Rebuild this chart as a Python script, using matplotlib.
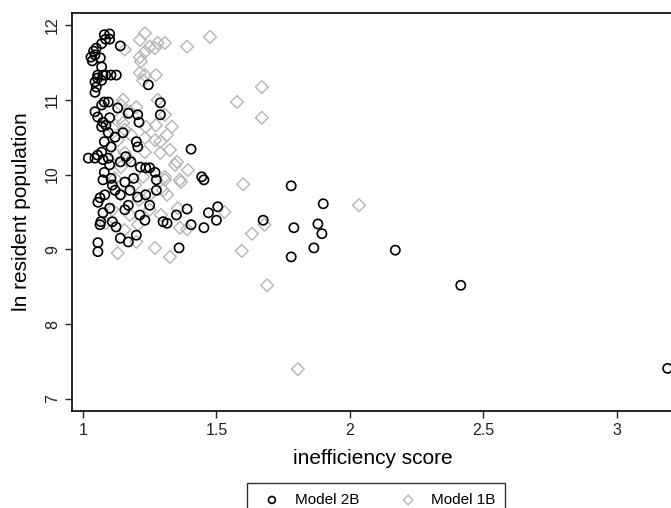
import matplotlib
matplotlib.use("Agg")
import matplotlib.pyplot as plt

plt.rcParams['font.family'] = ['Liberation Sans', 'DejaVu Sans']

# Model 2B (black circles): inefficiency score, ln resident population
m2b_x = [1.08, 1.10, 1.085, 1.10, 1.07, 1.14, 1.05, 1.04, 1.045, 1.03, 1.035, 1.065,
         1.07, 1.055, 1.075, 1.055, 1.045, 1.07, 1.085, 1.105, 1.125, 1.05, 1.045, 1.245,
         1.29, 1.095, 1.07, 1.08, 1.045, 1.055, 1.075, 1.10, 1.17, 1.205, 1.29, 1.095,
         1.12, 1.15, 1.08, 1.105, 1.20, 1.205, 1.045, 1.055, 1.07, 1.075, 1.095, 1.14,
         1.16, 1.18, 1.215, 1.08, 1.235, 1.25, 1.27, 1.275, 1.075, 1.105, 1.157, 1.19,
         1.405, 1.445, 1.453, 1.064, 1.056, 1.075, 1.10, 1.17, 1.205, 1.235, 1.275, 1.25,
         1.067, 1.064, 1.11, 1.124, 1.14, 1.17, 1.20, 1.30, 1.315, 1.056, 1.056, 1.39,
         1.35, 1.47, 1.505, 1.50, 1.405, 1.453, 1.36, 1.675, 1.78, 1.90, 1.88, 1.895,
         1.865, 1.78, 1.79, 2.17, 2.415, 3.19, 1.12, 1.14, 1.11, 1.176, 1.157, 1.213,
         1.232, 1.082, 1.10, 1.07, 1.086, 1.13, 1.02, 1.21]
m2b_y = [11.87, 11.88, 11.81, 11.81, 11.75, 11.72, 11.69, 11.65, 11.60, 11.57, 11.52, 11.56,
         11.44, 11.33, 11.33, 11.29, 11.24, 11.26, 11.33, 11.33, 11.33, 11.17, 11.10, 11.20,
         10.96, 10.97, 10.93, 10.97, 10.84, 10.77, 10.70, 10.76, 10.82, 10.80, 10.80, 10.56,
         10.50, 10.56, 10.44, 10.37, 10.44, 10.37, 10.22, 10.26, 10.30, 10.20, 10.22, 10.17,
         10.24, 10.17, 10.10, 10.03, 10.09, 10.09, 10.03, 9.93, 9.93, 9.95, 9.90, 9.95,
         10.34, 9.97, 9.93, 9.69, 9.63, 9.49, 9.55, 9.59, 9.70, 9.73, 9.79, 9.59,
         9.37, 9.33, 9.37, 9.30, 9.15, 9.10, 9.19, 9.37, 9.35, 9.09, 8.97, 9.54,
         9.46, 9.49, 9.57, 9.39, 9.33, 9.29, 9.02, 9.39, 9.85, 9.61, 9.34, 9.21,
         9.02, 8.90, 9.29, 8.99, 8.52, 7.41, 9.79, 9.73, 9.86, 9.79, 9.53, 9.46,
         9.39, 9.73, 10.13, 10.64, 10.66, 10.89, 10.22, 10.70]

# Model 1B (grey diamonds)
m1b_x = [1.232, 1.213, 1.28, 1.25, 1.27, 1.157, 1.232, 1.213, 1.217, 1.213, 1.232, 1.273,
         1.225, 1.28, 1.15, 1.476, 1.39, 1.307, 1.67, 1.577, 1.67, 1.142, 1.20, 1.176,
         1.236, 1.273, 1.15, 1.232, 1.29, 1.124, 1.157, 1.17, 1.232, 1.29, 1.142, 1.225,
         1.307, 1.12, 1.307, 1.333, 1.326, 1.352, 1.345, 1.393, 1.363, 1.307, 1.60, 1.367,
         1.315, 1.356, 1.53, 1.363, 1.39, 1.633, 1.595, 1.326, 1.142, 1.30, 1.20, 1.13,
         1.27, 1.086, 1.292, 2.034, 1.68, 1.69, 1.805, 1.157, 1.18, 1.13, 1.25, 1.21,
         1.176, 1.11, 1.195, 1.14, 1.11, 1.25, 1.206, 1.155, 1.27, 1.315]
m1b_y = [11.89, 11.80, 11.76, 11.71, 11.69, 11.67, 11.64, 11.57, 11.51, 11.36, 11.33, 11.33,
         11.26, 11.00, 11.00, 11.84, 11.71, 11.76, 11.17, 10.97, 10.76, 10.93, 10.90, 10.84,
         10.64, 10.66, 10.69, 10.49, 10.44, 10.26, 10.29, 10.22, 10.30, 10.29, 10.10, 9.97,
         9.93, 9.95, 10.80, 10.64, 10.33, 10.17, 10.13, 10.06, 9.93, 9.97, 9.87, 9.90,
         9.73, 9.55, 9.50, 9.29, 9.27, 9.21, 8.98, 8.90, 9.73, 9.79, 9.10, 8.95,
         9.02, 9.35, 9.46, 9.59, 9.33, 8.52, 7.40, 10.60, 10.53, 10.46, 9.73, 9.66,
         9.46, 9.53, 9.86, 10.76, 10.62, 9.53, 9.33, 9.26, 10.46, 10.53]

x_ticks = [1, 1.5, 2, 2.5, 3]
y_ticks = [7, 8, 9, 10, 11, 12]

fig = plt.figure(figsize=(6.71, 5.08), dpi=100)
ax = fig.add_axes([72 / 671, 97 / 508, 601 / 671, 398 / 508])

ax.scatter(m2b_x, m2b_y, s=44, marker='o', facecolors='none', edgecolors='black',
           linewidths=1.2, label='Model 2B', zorder=3)
ax.scatter(m1b_x, m1b_y, s=42, marker='D', facecolors='none', edgecolors='#b4b4b4',
           linewidths=1.0, label='Model 1B', zorder=2)

ax.set_xlim(0.959, 3.21)
ax.set_ylim(6.84, 12.16)
ax.set_xticks(x_ticks)
ax.set_xticklabels(['1', '1.5', '2', '2.5', '3'])
ax.set_yticks(y_ticks)
ax.set_yticklabels([str(v) for v in y_ticks], rotation=90, va='center')
ax.tick_params(direction='out', length=5, width=1, labelsize=11.5, colors='#222222')
for sp in ax.spines.values():
    sp.set_linewidth(1.2)

ax.set_xlabel('inefficiency score', fontsize=15, labelpad=8)
ax.set_ylabel('ln resident population', fontsize=15, labelpad=10)

leg = fig.legend(loc='upper center', bbox_to_anchor=(376 / 671, 1 - 483 / 508), ncol=2,
                 frameon=True, fancybox=False, edgecolor='black', fontsize=11,
                 handletextpad=0.5, columnspacing=2.2, borderpad=0.65, borderaxespad=0,
                 markerscale=0.75)
leg.get_frame().set_linewidth(1.0)

fig.savefig('out.png', dpi=100)
